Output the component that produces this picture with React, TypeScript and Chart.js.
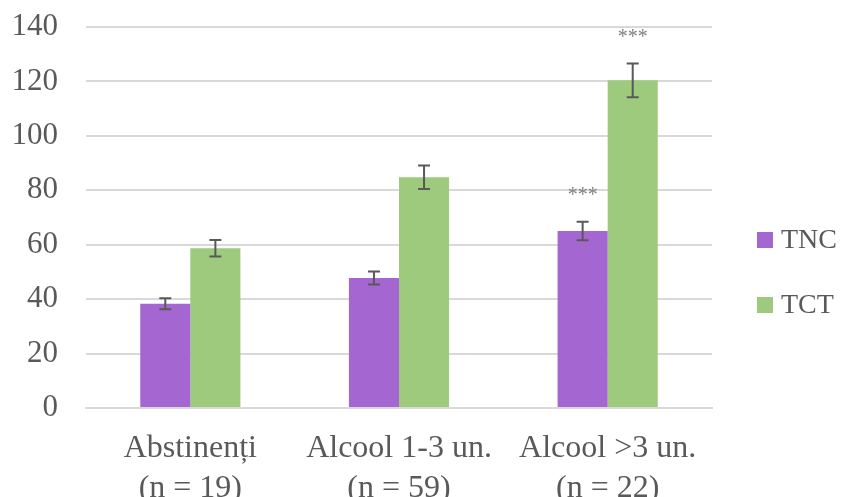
import React, { useEffect, useRef } from "react";
import { Chart, registerables } from "chart.js";

Chart.register(...registerables);

const categories: string[][] = [
  ["Abstinenți", "(n = 19)"],
  ["Alcool 1-3 un.", "(n = 59)"],
  ["Alcool >3 un.", "(n = 22)"],
];
const seriesNames = ["TNC", "TCT"];
const tncValues = [38.3, 47.8, 65.0];
const tctValues = [58.7, 84.8, 120.4];
const tncErrors = [2.0, 2.4, 3.4];
const tctErrors = [3.0, 4.35, 6.2];
const tncMarks = ["", "", "***"];
const tctMarks = ["", "", "***"];
const yTicks = [0, 20, 40, 60, 80, 100, 120, 140];

const PURPLE = "#A467D2";
const GREEN = "#9DCA7C";
const TEXT = "#595959";
const GRID = "#D9D9D9";
const FONT = "'Liberation Serif', 'Times New Roman', serif";

const errors = [tncErrors, tctErrors];
const marks = [tncMarks, tctMarks];

// Draws error bars, significance marks and the legend on the right.
const extrasPlugin = {
  id: "extras",
  afterDatasetsDraw(chart: any) {
    const { ctx } = chart;
    const yScale = chart.scales.y;
    ctx.save();
    chart.data.datasets.forEach((ds: any, di: number) => {
      const meta = chart.getDatasetMeta(di);
      meta.data.forEach((bar: any, i: number) => {
        const v = ds.data[i] as number;
        const e = errors[di][i];
        const x = bar.x;
        const yTop = yScale.getPixelForValue(v + e);
        const yBot = yScale.getPixelForValue(v - e);
        ctx.strokeStyle = TEXT;
        ctx.lineWidth = 2;
        ctx.beginPath();
        ctx.moveTo(x, yTop);
        ctx.lineTo(x, yBot);
        ctx.moveTo(x - 6, yTop);
        ctx.lineTo(x + 6, yTop);
        ctx.moveTo(x - 6, yBot);
        ctx.lineTo(x + 6, yBot);
        ctx.stroke();
        const m = marks[di][i];
        if (m) {
          ctx.fillStyle = "#7F7F7F";
          ctx.font = `20px ${FONT}`;
          ctx.textAlign = "center";
          ctx.textBaseline = "middle";
          ctx.fillText(m, x, yTop - 26);
        }
      });
    });

    // legend
    const colors = [PURPLE, GREEN];
    const ys = [240, 305];
    ctx.font = `28px ${FONT}`;
    ctx.textAlign = "left";
    ctx.textBaseline = "middle";
    seriesNames.forEach((name, i) => {
      ctx.fillStyle = colors[i];
      ctx.fillRect(757, ys[i] - 8, 16, 16);
      ctx.fillStyle = TEXT;
      ctx.fillText(name, 781, ys[i] + 1);
    });
    ctx.restore();
  },
};

export default function App() {
  const ref = useRef<HTMLCanvasElement>(null);

  useEffect(() => {
    if (!ref.current) return;
    const chart = new Chart(ref.current, {
      type: "bar",
      data: {
        labels: categories,
        datasets: [
          {
            label: seriesNames[0],
            data: tncValues,
            backgroundColor: PURPLE,
            categoryPercentage: 0.48,
            barPercentage: 1,
          },
          {
            label: seriesNames[1],
            data: tctValues,
            backgroundColor: GREEN,
            categoryPercentage: 0.48,
            barPercentage: 1,
          },
        ],
      },
      options: {
        responsive: false,
        animation: false,
        layout: { padding: { top: 27, right: 134, left: 0, bottom: 0 } },
        plugins: {
          legend: { display: false },
          tooltip: { enabled: false },
        },
        scales: {
          x: {
            grid: { display: false },
            border: { color: GRID, width: 2 },
            ticks: {
              color: TEXT,
              font: { family: FONT, size: 32, lineHeight: 1.25 },
              padding: 13,
              maxRotation: 0,
              autoSkip: false,
            },
            afterFit: (s: any) => {
              s.height = 89;
              s.paddingLeft = 0;
              s.paddingRight = 0;
            },
          },
          y: {
            min: 0,
            max: 140,
            afterBuildTicks: (s: any) => {
              s.ticks = yTicks.map((v) => ({ value: v }));
            },
            grid: { color: GRID, lineWidth: 2, drawTicks: false },
            border: { display: false },
            ticks: {
              color: TEXT,
              font: { family: FONT, size: 31 },
              padding: 28,
            },
            afterFit: (s: any) => {
              s.width = 86;
              s.paddingTop = 0;
              s.paddingBottom = 0;
            },
          },
        },
      },
      plugins: [extrasPlugin],
    });
    return () => chart.destroy();
  }, []);

  return (
    <div style={{ position: "fixed", left: 0, top: 0, width: 846, height: 497, background: "#fff" }}>
      <canvas ref={ref} width={846} height={497} />
    </div>
  );
}
